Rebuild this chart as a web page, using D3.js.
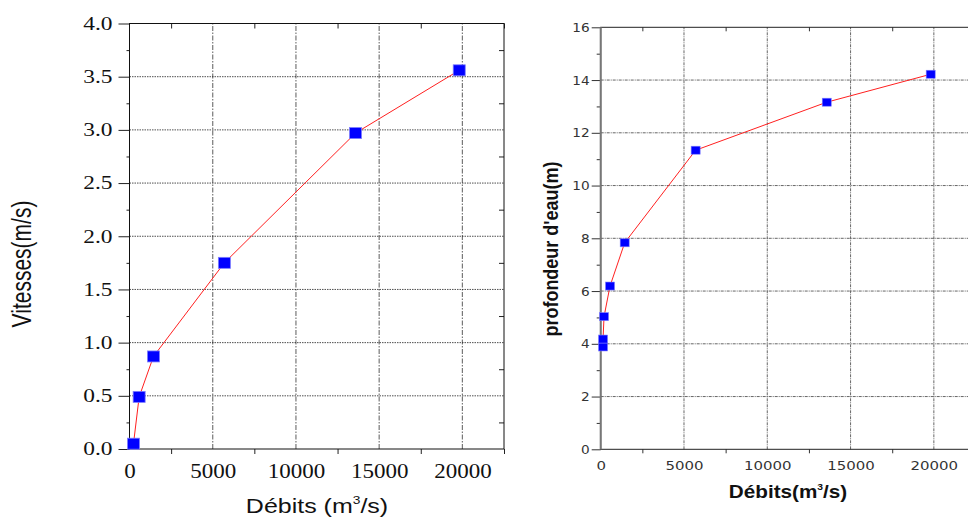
<!DOCTYPE html>
<html>
<head>
<meta charset="utf-8">
<script src="https://cdn.jsdelivr.net/npm/d3@7"></script>
<style>
  body { margin: 0; background: #fff; }
  svg { display: block; }
</style>
</head>
<body>
<svg width="968" height="525"></svg>
<script>
// discharge (m3/s) vs velocity (m/s)
const flowsV = [240, 580, 1440, 5700, 13580, 19810];
const speeds = [0.05, 0.49, 0.87, 1.75, 2.97, 3.56];

// discharge (m3/s) vs water depth (m)
const flowsH = [140, 140, 200, 560, 1440, 5700, 13570, 19810];
const depths = [3.88, 4.18, 5.03, 6.19, 7.83, 11.34, 13.16, 14.22];

const xMajor = [0, 5000, 10000, 15000, 20000];
const xMinor = [2500, 7500, 12500, 17500, 22500];
const vMajor = [0, 0.5, 1, 1.5, 2, 2.5, 3, 3.5, 4];
const vMinor = [0.25, 0.75, 1.25, 1.75, 2.25, 2.75, 3.25, 3.75];
const hMajor = [0, 2, 4, 6, 8, 10, 12, 14, 16];
const hMinor = [1, 3, 5, 7, 9, 11, 13, 15];

const svg = d3.select("svg");

// stretch tick labels sideways like the scanned original
function stretchTicks(axisG, k, offset){
  axisG.selectAll("text").each(function(){
    var t = d3.select(this);
    if (offset) t.attr("x", -offset / k);
    t.attr("transform", "scale(" + k + ",1)");
  });
}

function bareAxis(g){
  g.select(".domain").remove();
  return g;
}

// ---------- left chart ----------
const xL = d3.scaleLinear().domain([0, 22500]).range([129.5, 504]);
const yL = d3.scaleLinear().domain([0, 4]).range([449, 23.5]);

var left = svg.append("g");

left.selectAll(".vgrid")
  .data(xMajor.slice(1))
  .enter().append("line")
  .attr("x1", d => xL(d)).attr("x2", d => xL(d))
  .attr("y1", yL(0)).attr("y2", yL(4))
  .attr("stroke", "#777").attr("stroke-width", 1.2)
  .attr("stroke-dasharray", "5,1.5,1.5,1.5");

left.selectAll(".hgrid")
  .data(vMajor.slice(1, -1))
  .enter().append("line")
  .attr("x1", xL(0)).attr("x2", xL(22500))
  .attr("y1", d => yL(d)).attr("y2", d => yL(d))
  .attr("stroke", "#222").attr("stroke-width", 0.8)
  .attr("stroke-dasharray", "1.5,1");

var lx = left.append("g")
  .attr("transform", "translate(0," + yL(0) + ")")
  .call(d3.axisBottom(xL).tickValues(xMajor).tickSize(0).tickPadding(0).tickFormat(d3.format("d")))
  .call(bareAxis);
lx.selectAll("text").attr("y", 29).attr("dy", 0);
left.append("g")
  .attr("transform", "translate(0," + yL(0) + ")")
  .call(d3.axisBottom(xL).tickValues(xMinor).tickSize(5).tickFormat(""))
  .call(bareAxis);
left.append("g")
  .attr("transform", "translate(0," + yL(4) + ")")
  .call(d3.axisBottom(xL).tickValues(xMinor).tickSize(5).tickFormat(""))
  .call(bareAxis);

var ly = left.append("g")
  .attr("transform", "translate(" + xL(0) + ",0)")
  .call(d3.axisLeft(yL).tickValues(vMajor).tickSize(11).tickPadding(6).tickFormat(d3.format(".1f")))
  .call(bareAxis);
left.append("g")
  .attr("transform", "translate(" + xL(0) + ",0)")
  .call(d3.axisLeft(yL).tickValues(vMinor).tickSize(3).tickFormat(""))
  .call(bareAxis);
left.append("g")
  .attr("transform", "translate(" + xL(22500) + ",0)")
  .call(d3.axisLeft(yL).tickValues(vMinor).tickSize(5).tickFormat(""))
  .call(bareAxis);

left.selectAll(".tick line").attr("stroke", "#222");
left.selectAll(".tick text")
  .attr("font-family", "Liberation Serif, serif")
  .attr("fill", "#111");
lx.selectAll("text").attr("font-size", 20);
ly.selectAll("text").attr("font-size", 18);
stretchTicks(lx, 1.15);
stretchTicks(ly, 1.3, 17);

left.append("rect")
  .attr("x", xL(0)).attr("y", yL(4))
  .attr("width", xL(22500) - xL(0)).attr("height", yL(0) - yL(4))
  .attr("fill", "none").attr("stroke", "#111").attr("stroke-width", 1);

var speedPts = flowsV.map((q, i) => [q, speeds[i]]);
left.append("path")
  .datum(speedPts)
  .attr("fill", "none").attr("stroke", "#ff2020").attr("stroke-width", 1)
  .attr("d", d3.line().x(d => xL(d[0])).y(d => yL(d[1])));
left.selectAll(".pt")
  .data(speedPts)
  .enter().append("rect")
  .attr("x", d => xL(d[0]) - 6).attr("y", d => yL(d[1]) - 5.5)
  .attr("width", 12).attr("height", 11)
  .attr("fill", "#0000ff").attr("stroke", "#7d7dff").attr("stroke-width", 0.8);

left.append("text")
  .attr("transform", "translate(317,513) scale(1.25,1)")
  .attr("text-anchor", "middle")
  .attr("font-family", "Liberation Sans, Arial, sans-serif")
  .attr("font-size", 20).attr("fill", "#111")
  .html("Débits (m<tspan dy='-9' font-size='11'>3</tspan><tspan dy='9'>/s)</tspan>");

left.append("text")
  .attr("transform", "translate(31,264) scale(1.3,1) rotate(-90)")
  .attr("text-anchor", "middle")
  .attr("font-family", "Liberation Sans, Arial, sans-serif")
  .attr("font-size", 21).attr("fill", "#111")
  .text("Vitesses(m/s)");

// ---------- right chart ----------
const xR = d3.scaleLinear().domain([0, 22500]).range([600.7, 975.5]);
const yR = d3.scaleLinear().domain([0, 16]).range([449.3, 27.3]);

var right = svg.append("g");

right.selectAll(".vgrid")
  .data(xMajor.slice(1))
  .enter().append("line")
  .attr("x1", d => xR(d)).attr("x2", d => xR(d))
  .attr("y1", yR(0)).attr("y2", yR(16))
  .attr("stroke", "#555").attr("stroke-width", 0.9)
  .attr("stroke-dasharray", "3,1,1,1");

right.selectAll(".hgrid")
  .data(hMajor.slice(1, -1))
  .enter().append("line")
  .attr("x1", xR(0)).attr("x2", xR(22500))
  .attr("y1", d => yR(d)).attr("y2", d => yR(d))
  .attr("stroke", "#555").attr("stroke-width", 0.9)
  .attr("stroke-dasharray", "3,1,1,1");

var rx = right.append("g")
  .attr("transform", "translate(0," + yR(0) + ")")
  .call(d3.axisBottom(xR).tickValues(xMajor).tickSize(0).tickFormat(d3.format("d")))
  .call(bareAxis);
rx.selectAll("text").attr("y", 21).attr("dy", 0);
right.append("g")
  .attr("transform", "translate(0," + yR(0) + ")")
  .call(d3.axisBottom(xR).tickValues(xMinor).tickSize(4).tickFormat(""))
  .call(bareAxis);
right.append("g")
  .attr("transform", "translate(0," + yR(16) + ")")
  .call(d3.axisBottom(xR).tickValues(xMinor).tickSize(4).tickFormat(""))
  .call(bareAxis);

var ry = right.append("g")
  .attr("transform", "translate(" + xR(0) + ",0)")
  .call(d3.axisLeft(yR).tickValues(hMajor).tickSize(9).tickPadding(2).tickFormat(d3.format("d")))
  .call(bareAxis);
right.append("g")
  .attr("transform", "translate(" + xR(0) + ",0)")
  .call(d3.axisLeft(yR).tickValues(hMinor).tickSize(4).tickFormat(""))
  .call(bareAxis);

right.selectAll(".tick line").attr("stroke", "#333");
right.selectAll(".tick text")
  .attr("font-family", "DejaVu Sans, sans-serif")
  .attr("font-size", 13)
  .attr("fill", "#333");
stretchTicks(rx, 1.15);
stretchTicks(ry, 1.05, 11);

right.append("rect")
  .attr("x", xR(0)).attr("y", yR(16))
  .attr("width", xR(22500) - xR(0)).attr("height", yR(0) - yR(16))
  .attr("fill", "none").attr("stroke", "#222").attr("stroke-width", 1);
right.append("line")
  .attr("x1", xR(0)).attr("x2", xR(0))
  .attr("y1", yR(16)).attr("y2", yR(0))
  .attr("stroke", "#777").attr("stroke-width", 2);

var depthPts = flowsH.map((q, i) => [q, depths[i]]);
right.append("path")
  .datum(depthPts)
  .attr("fill", "none").attr("stroke", "#ff2020").attr("stroke-width", 1)
  .attr("d", d3.line().x(d => xR(d[0])).y(d => yR(d[1])));
right.selectAll(".pt")
  .data(depthPts)
  .enter().append("rect")
  .attr("x", d => xR(d[0]) - 4.5).attr("y", d => yR(d[1]) - 4)
  .attr("width", 9).attr("height", 8)
  .attr("fill", "#0000ff").attr("stroke", "#7d7dff").attr("stroke-width", 0.6);

right.append("text")
  .attr("transform", "translate(788,498) scale(1.15,1)")
  .attr("text-anchor", "middle")
  .attr("font-family", "Liberation Sans, Arial, sans-serif")
  .attr("font-weight", "bold")
  .attr("font-size", 18).attr("fill", "#111")
  .html("Débits(m<tspan dy='-8' font-size='9'>3</tspan><tspan dy='8'>/s)</tspan>");

right.append("text")
  .attr("transform", "translate(558,249) scale(1.1,1) rotate(-90)")
  .attr("text-anchor", "middle")
  .attr("font-family", "Liberation Sans, Arial, sans-serif")
  .attr("font-weight", "bold")
  .attr("font-size", 18).attr("fill", "#111")
  .text("profondeur d'eau(m)");
</script>
</body>
</html>
